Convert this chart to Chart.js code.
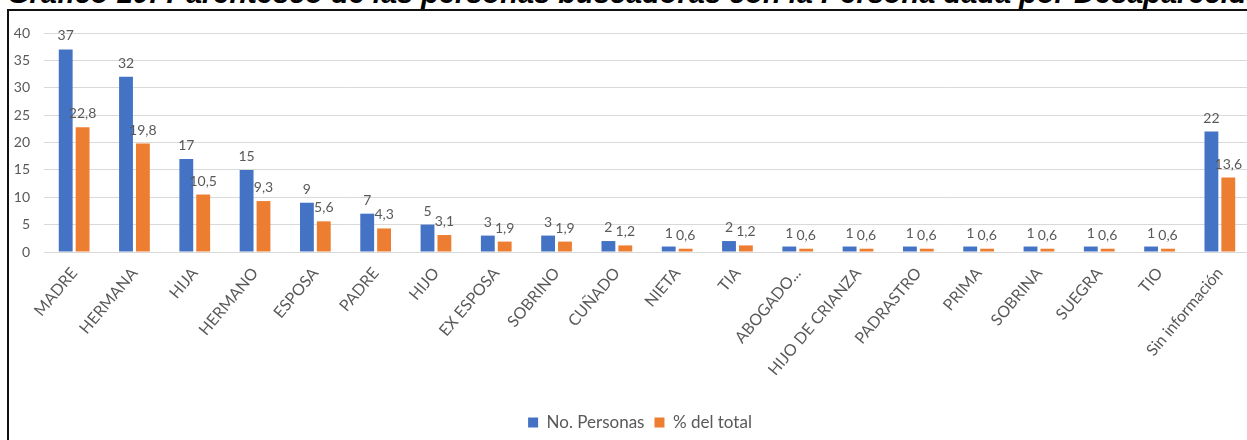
<!DOCTYPE html>
<html lang="es">
<head>
<meta charset="utf-8">
<title>Parentesco de las personas buscadoras</title>
<script src="https://cdn.jsdelivr.net/npm/chart.js@4.4.1/dist/chart.umd.min.js"></script>
<style>
  html, body { margin: 0; padding: 0; background: #fff; overflow: hidden; width: 1247px; height: 440px; }
  #title { position: absolute; left: 7px; top: -21px; white-space: nowrap; color: #000;
           font: italic bold 29px/29px "Liberation Sans", Arial, sans-serif; }
  #frame { position: absolute; left: 7px; top: 9px; width: 1300px; height: 500px;
           border-top: 2px solid #111; border-left: 2px solid #111; }
  #wrap { position: absolute; left: 0; top: 0; width: 1280px; height: 440px; }
</style>
</head>
<body>
<div id="title">Gráfico 10: Parentesco de las personas buscadoras con la Persona dada por Desaparecida</div>
<div id="frame"></div>
<div id="wrap"><canvas id="chart"></canvas></div>
<script>
// categories and series
const categories = ['MADRE', 'HERMANA', 'HIJA', 'HERMANO', 'ESPOSA', 'PADRE', 'HIJO', 'EX ESPOSA',
  'SOBRINO', 'CUÑADO', 'NIETA', 'TIA', 'ABOGADO...', 'HIJO DE CRIANZA', 'PADRASTRO', 'PRIMA',
  'SOBRINA', 'SUEGRA', 'TIO', 'Sin información'];
const personas = [37, 32, 17, 15, 9, 7, 5, 3, 3, 2, 1, 2, 1, 1, 1, 1, 1, 1, 1, 22];
const porcentaje = [22.8, 19.8, 10.5, 9.3, 5.6, 4.3, 3.1, 1.9, 1.9, 1.2, 0.6, 1.2, 0.6, 0.6, 0.6, 0.6, 0.6, 0.6, 0.6, 13.6];
const seriesNames = ['No. Personas', '% del total'];
const yMax = 40;
const yStep = 5;

const grey = '#595959';
const font = 'Lato, "Open Sans", sans-serif';

// value labels above each bar, decimal comma like the original
const barLabels = {
  id: 'barLabels',
  afterDatasetsDraw(chart) {
    const ctx = chart.ctx;
    ctx.save();
    ctx.font = '14px ' + font;
    ctx.fillStyle = grey;
    ctx.textAlign = 'center';
    ctx.textBaseline = 'alphabetic';
    chart.data.datasets.forEach((ds, i) => {
      chart.getDatasetMeta(i).data.forEach((bar, j) => {
        ctx.fillText(String(ds.data[j]).replace('.', ','), bar.x, bar.y - 9);
      });
    });
    ctx.restore();
  }
};

// centre the legend on the page and nudge it down
const legendPlace = {
  id: 'legendPlace',
  afterLayout(chart) {
    const lg = chart.legend;
    if (!lg) return;
    lg.left = 0;
    lg.right = 1280;
    lg.top += 1;
    lg.bottom += 1;
  }
};

new Chart(document.getElementById('chart'), {
  type: 'bar',
  data: {
    labels: categories,
    datasets: [
      { label: seriesNames[0], data: personas, backgroundColor: '#4472C4',
        categoryPercentage: 0.56, barPercentage: 0.82 },
      { label: seriesNames[1], data: porcentaje, backgroundColor: '#ED7D31',
        categoryPercentage: 0.56, barPercentage: 0.82 }
    ]
  },
  options: {
    responsive: true,
    maintainAspectRatio: false,
    animation: false,
    layout: { padding: { left: 0, right: 30, top: 33, bottom: 0 } },
    plugins: {
      legend: {
        position: 'bottom',
        labels: {
          boxWidth: 10, boxHeight: 10, padding: 10,
          color: grey,
          font: { family: font, size: 17 }
        }
      },
      tooltip: { enabled: false }
    },
    scales: {
      y: {
        min: 0,
        max: yMax,
        ticks: { stepSize: yStep, color: grey, padding: 14, font: { family: font, size: 14 } },
        grid: { color: '#d9d9d9', drawTicks: false },
        border: { display: false },
        afterFit: (s) => { s.width = 44; }
      },
      x: {
        ticks: {
          color: grey, autoSkip: false, maxRotation: 50, minRotation: 50, padding: 4,
          font: { family: font, size: 16 }
        },
        grid: { display: false },
        border: { color: '#d9d9d9' },
        afterFit: (s) => { s.height = 151; }
      }
    }
  },
  plugins: [barLabels, legendPlace]
});
</script>
</body>
</html>
